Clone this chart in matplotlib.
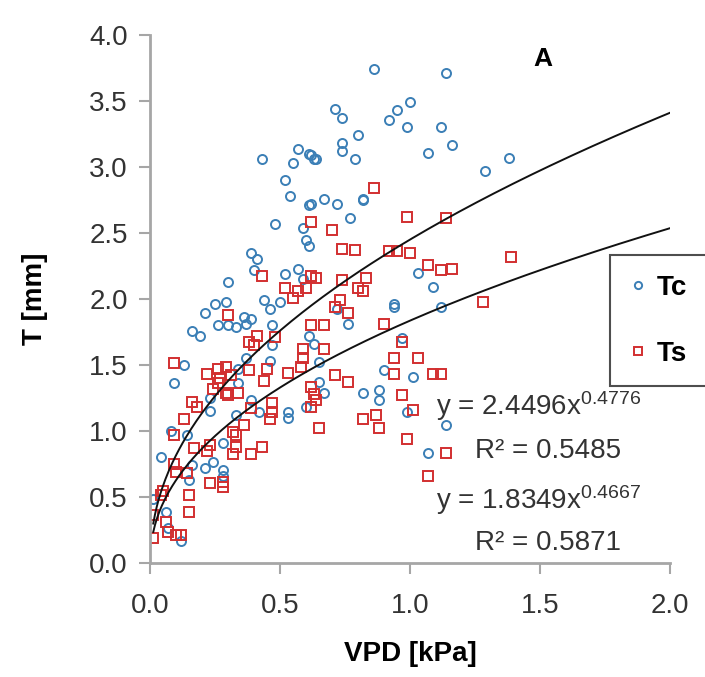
import numpy as np
import matplotlib.pyplot as plt

plt.rcParams['font.family'] = ['Liberation Sans', 'DejaVu Sans']
plt.rcParams['mathtext.default'] = 'regular'

# Tc (blue circles)
tc_vpd = [0.86, 1.14, 0.71, 0.74, 1.00, 0.95, 0.92, 0.99, 1.12, 0.80, 0.74, 0.74, 1.16, 1.07,
          0.62, 0.64, 0.79, 1.38, 1.29, 0.67, 0.72, 0.82, 0.82, 0.62, 0.77, 0.43, 0.57, 0.61,
          0.63, 0.55, 0.52, 0.54, 0.61, 0.48, 0.59, 0.60, 0.61, 0.39, 0.41, 0.40, 0.57, 0.52,
          0.59, 0.30, 0.44, 0.46, 0.50, 0.29, 0.25, 0.21, 0.26, 0.30, 0.33, 0.36, 0.39, 0.37,
          0.16, 0.19, 0.47, 0.47, 0.61, 0.13, 0.37, 0.46, 0.09, 0.34, 0.34, 0.23, 0.33, 0.39,
          0.53, 0.60, 0.23, 0.42, 0.53, 0.08, 0.14, 0.28, 0.04, 0.16, 0.21, 0.24, 0.28, 0.28,
          0.15, 0.01, 0.06, 0.12, 0.07, 1.03, 1.09, 0.72, 0.76, 0.94, 0.94, 1.12, 0.63, 0.65,
          0.90, 1.01, 0.65, 0.67, 0.82, 0.88, 0.88, 0.99, 1.14, 1.07, 0.97]
tc_t = [3.74, 3.71, 3.44, 3.37, 3.49, 3.43, 3.36, 3.30, 3.30, 3.24, 3.18, 3.12, 3.17, 3.11,
        3.09, 3.06, 3.06, 3.07, 2.97, 2.76, 2.72, 2.75, 2.76, 2.72, 2.61, 3.06, 3.14, 3.10,
        3.06, 3.03, 2.90, 2.78, 2.71, 2.57, 2.54, 2.45, 2.40, 2.35, 2.30, 2.22, 2.23, 2.19,
        2.15, 2.13, 1.99, 1.92, 1.98, 1.98, 1.96, 1.89, 1.80, 1.80, 1.79, 1.86, 1.85, 1.81,
        1.76, 1.72, 1.80, 1.65, 1.72, 1.50, 1.55, 1.53, 1.36, 1.47, 1.36, 1.15, 1.12, 1.23,
        1.14, 1.18, 1.25, 1.14, 1.10, 1.00, 0.97, 0.91, 0.80, 0.74, 0.72, 0.76, 0.70, 0.66,
        0.63, 0.48, 0.38, 0.16, 0.26, 2.20, 2.09, 1.92, 1.81, 1.94, 1.96, 1.94, 1.66, 1.52,
        1.46, 1.41, 1.37, 1.29, 1.29, 1.31, 1.23, 1.14, 1.04, 0.83, 1.70]

# Ts (red squares)
ts_vpd = [0.86, 0.99, 1.14, 0.62, 0.70, 0.43, 0.62, 0.52, 0.55, 0.57, 0.60, 0.30, 0.41, 0.38,
          0.40, 0.48, 0.59, 0.59, 0.09, 0.22, 0.26, 0.29, 0.27, 0.31, 0.38, 0.44, 0.45, 0.53,
          0.58, 0.62, 0.16, 0.18, 0.13, 0.63, 0.30, 0.34, 0.26, 0.24, 0.29, 0.39, 0.47, 0.47,
          0.46, 0.62, 0.32, 0.36, 0.33, 0.23, 0.22, 0.17, 0.33, 0.32, 0.43, 0.39, 0.09, 0.10,
          0.14, 0.23, 0.28, 0.28, 0.15, 0.15, 0.04, 0.05, 0.01, 0.06, 0.07, 0.10, 0.12, 0.01,
          0.09, 0.74, 0.79, 0.92, 0.95, 1.00, 1.07, 1.12, 1.16, 0.64, 0.74, 0.83, 0.80, 0.82,
          0.73, 0.71, 0.76, 0.90, 0.97, 0.67, 0.62, 0.67, 0.94, 1.03, 0.94, 1.09, 1.12, 0.71,
          0.76, 0.64, 0.97, 1.01, 0.82, 0.87, 1.39, 1.28, 0.65, 0.88, 0.99, 1.14, 1.07]
ts_t = [2.84, 2.62, 2.61, 2.58, 2.52, 2.17, 2.17, 2.08, 2.01, 2.06, 2.08, 1.88, 1.72, 1.67,
        1.65, 1.71, 1.62, 1.55, 1.51, 1.43, 1.47, 1.48, 1.40, 1.42, 1.46, 1.38, 1.47, 1.44,
        1.48, 1.33, 1.22, 1.18, 1.09, 1.28, 1.27, 1.29, 1.36, 1.32, 1.29, 1.17, 1.21, 1.14,
        1.09, 1.18, 0.99, 1.04, 0.97, 0.89, 0.85, 0.87, 0.88, 0.82, 0.88, 0.82, 0.75, 0.69,
        0.68, 0.60, 0.61, 0.57, 0.51, 0.38, 0.51, 0.54, 0.36, 0.31, 0.23, 0.21, 0.21, 0.19,
        0.97, 2.38, 2.37, 2.36, 2.36, 2.35, 2.26, 2.22, 2.23, 2.16, 2.14, 2.16, 2.08, 2.06,
        1.99, 1.94, 1.89, 1.81, 1.67, 1.80, 1.80, 1.62, 1.55, 1.55, 1.43, 1.43, 1.43, 1.42,
        1.37, 1.23, 1.27, 1.16, 1.09, 1.12, 2.32, 1.98, 1.02, 1.02, 0.94, 0.83, 0.66]

# power trendlines y = a * x^b, with R²
tc_fit = (2.4496, 0.4776, 0.5485)
ts_fit = (1.8349, 0.4667, 0.5871)

blue = '#3b7fb6'
red = '#d22f30'

fig = plt.figure(figsize=(7.05, 6.77), dpi=100)
ax = fig.add_axes([0.213, 0.169, 0.737, 0.779])

ax.plot(tc_vpd, tc_t, 'o', ms=6.5, mfc='none', mec=blue, mew=1.4, ls='none', label='Tc')
ax.plot(ts_vpd, ts_t, 's', ms=6.5, mfc='none', mec=red, mew=1.4, ls='none', label='Ts')

xx = np.linspace(0.012, 2.0, 300)
for a, b, r2 in (tc_fit, ts_fit):
    ax.plot(xx, a * xx ** b, color='#111111', lw=1.4)

ax.set_xlim(0, 2.0)
ax.set_ylim(0, 4.0)
ax.set_xticks(np.arange(0, 2.01, 0.5))
ax.set_yticks(np.arange(0, 4.01, 0.5))
ax.set_xticklabels(['%.1f' % v for v in np.arange(0, 2.01, 0.5)])
ax.set_yticklabels(['%.1f' % v for v in np.arange(0, 4.01, 0.5)])
for s in ('top', 'right'):
    ax.spines[s].set_visible(False)
for s in ('left', 'bottom'):
    ax.spines[s].set_color('#a6a6a6')
    ax.spines[s].set_linewidth(2)
ax.tick_params(direction='out', length=8, width=1.5, color='#a6a6a6',
               labelsize=20, labelcolor='#333333')
ax.tick_params(axis='x', pad=14)
ax.tick_params(axis='y', pad=8)

ax.set_xlabel('VPD [kPa]', fontsize=20, fontweight='bold', labelpad=16)
ax.set_ylabel('T [mm]', fontsize=20, fontweight='bold', labelpad=30)

ax.text(1.51, 3.82, 'A', fontsize=19, fontweight='bold', ha='center', va='center')

eq_kw = dict(fontsize=20, color='#333333', va='center', clip_on=False)
ax.text(1.10, 1.19, 'y = %.4fx$^{%.4f}$' % (tc_fit[0], tc_fit[1]), **eq_kw)
ax.text(1.25, 0.85, 'R² = %.4f' % tc_fit[2], **eq_kw)
ax.text(1.10, 0.475, 'y = %.4fx$^{%.4f}$' % (ts_fit[0], ts_fit[1]), **eq_kw)
ax.text(1.25, 0.15, 'R² = %.4f' % ts_fit[2], **eq_kw)

leg = ax.legend(loc='upper left', bbox_to_anchor=(0.865, 0.623), bbox_transform=fig.transFigure,
                prop={'size': 20, 'weight': 'bold'}, frameon=True, fancybox=False,
                labelspacing=1.45, handlelength=0.6, handletextpad=0.4, borderpad=0.7,
                markerscale=0.8, borderaxespad=0)
leg.get_frame().set_edgecolor('#222222')
leg.get_frame().set_linewidth(1.5)

fig.savefig('out.png', dpi=100)
